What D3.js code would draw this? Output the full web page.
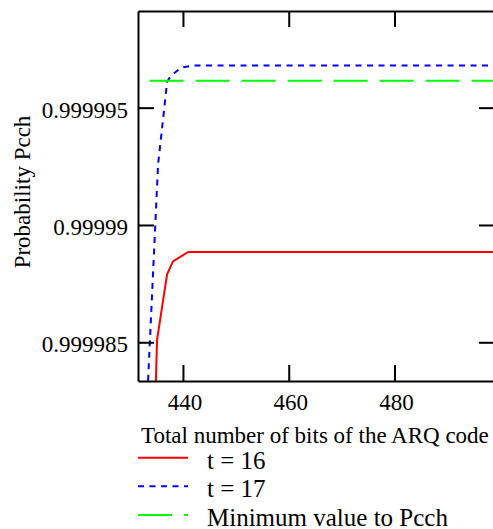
<!DOCTYPE html>
<html>
<head>
<meta charset="utf-8">
<script src="https://cdn.jsdelivr.net/npm/d3@7"></script>
<style>
  body { margin: 0; background: #fff; }
  text { font-family: "Liberation Serif", "Times New Roman", serif; font-size: 23px; fill: #000; }
  .legend text { font-size: 25px; }
</style>
</head>
<body>
<div class="chart-area"></div>
<script>
// values
var xTicks = [440, 460, 480];
var yTicks = [0.999985, 0.99999, 0.999995];
var yTickLabels = ["0.999985", "0.99999", "0.999995"];

var bitsT16 = [434, 435.1, 437, 438.1, 441, 499];
var pcchT16 = [0.9999764, 0.9999851, 0.9999879, 0.99998845, 0.99998885, 0.99998885];

var bitsT17 = [433, 435.3, 435.8, 437, 437.7, 439.6, 441.9, 499];
var pcchT17 = [0.9999814, 0.9999926, 0.9999936, 0.9999961, 0.99999635, 0.9999967, 0.9999968, 0.9999968];

var bitsMin = [433.7, 499];
var pcchMin = [0.99999615, 0.99999615];

var legendNames = ["t = 16", "t = 17", "Minimum value to Pcch"];

var width = 493,
    height = 529,
    plotLeft = 138,
    plotRight = 495,
    plotTop = 11,
    plotBottom = 381,
    tickLen = 16;

var x = d3.scaleLinear().domain([431.5, 499]).range([plotLeft, plotRight]);
var y = d3.scaleLinear().domain([0.99998335, 0.99999912]).range([plotBottom, plotTop]);

var svg = d3.select(".chart-area")
            .append("svg")
            .attr("width", width)
            .attr("height", height);

svg.append("clipPath")
   .attr("id", "plot-clip")
   .append("rect")
   .attr("x", plotLeft)
   .attr("y", plotTop)
   .attr("width", plotRight - plotLeft)
   .attr("height", plotBottom - plotTop);

var series = [
  { xs: bitsT16, ys: pcchT16, color: "#ff0000", dash: null },
  { xs: bitsT17, ys: pcchT17, color: "#0000ff", dash: "6,5.5" },
  { xs: bitsMin, ys: pcchMin, color: "#00ff00", dash: "34,12" }
];

var line = d3.line()
             .x(function(d) { return x(d[0]) })
             .y(function(d) { return y(d[1]) });

svg.append("g")
   .attr("clip-path", "url(#plot-clip)")
   .selectAll("path")
   .data(series)
   .enter()
   .append("path")
   .attr("d", function(s) { return line(d3.zip(s.xs, s.ys)) })
   .attr("fill", "none")
   .attr("stroke", function(s) { return s.color })
   .attr("stroke-width", 2)
   .attr("stroke-dasharray", function(s) { return s.dash });

// frame with inward ticks on all four sides
svg.append("g")
   .attr("transform", "translate(0," + plotBottom + ")")
   .call(d3.axisBottom(x).tickValues(xTicks).tickSize(-tickLen).tickSizeOuter(0).tickFormat(""));
svg.append("g")
   .attr("transform", "translate(0," + plotTop + ")")
   .call(d3.axisTop(x).tickValues(xTicks).tickSize(-tickLen).tickSizeOuter(0).tickFormat(""));
svg.append("g")
   .attr("transform", "translate(" + plotLeft + ",0)")
   .call(d3.axisLeft(y).tickValues(yTicks).tickSize(-tickLen).tickSizeOuter(0).tickFormat(""));
svg.append("g")
   .attr("transform", "translate(" + plotRight + ",0)")
   .call(d3.axisRight(y).tickValues(yTicks).tickSize(-tickLen).tickSizeOuter(0).tickFormat(""));

svg.selectAll(".domain, .tick line")
   .attr("stroke", "#000")
   .attr("stroke-width", 2);

svg.selectAll(".xlabel")
   .data(xTicks)
   .enter()
   .append("text")
   .attr("class", "xlabel")
   .attr("x", function(d) { return x(d) + 2 })
   .attr("y", plotBottom + 29)
   .attr("text-anchor", "middle")
   .text(function(d) { return d });

svg.selectAll(".ylabel")
   .data(yTicks)
   .enter()
   .append("text")
   .attr("class", "ylabel")
   .attr("x", plotLeft - 10)
   .attr("y", function(d) { return y(d) + 10 })
   .attr("text-anchor", "end")
   .text(function(d, i) { return yTickLabels[i] });

svg.append("text")
   .attr("x", 141)
   .attr("y", 443)
   .text("Total number of bits of the ARQ code");

svg.append("text")
   .attr("transform", "translate(30,192) rotate(-90)")
   .attr("text-anchor", "middle")
   .text("Probability Pcch");

var legend = svg.selectAll(".legend")
                .data(series)
                .enter()
                .append("g")
                .attr("class", "legend")
                .attr("transform", function(d, i) { return "translate(138," + (457.7 + i * 28.6) + ")" });

legend.append("line")
      .attr("x1", 0)
      .attr("x2", 50)
      .attr("stroke", function(s) { return s.color })
      .attr("stroke-width", 2)
      .attr("stroke-dasharray", function(s) { return s.dash });

legend.append("text")
      .attr("x", 69)
      .attr("y", 11)
      .text(function(d, i) { return legendNames[i] });
</script>
</body>
</html>
